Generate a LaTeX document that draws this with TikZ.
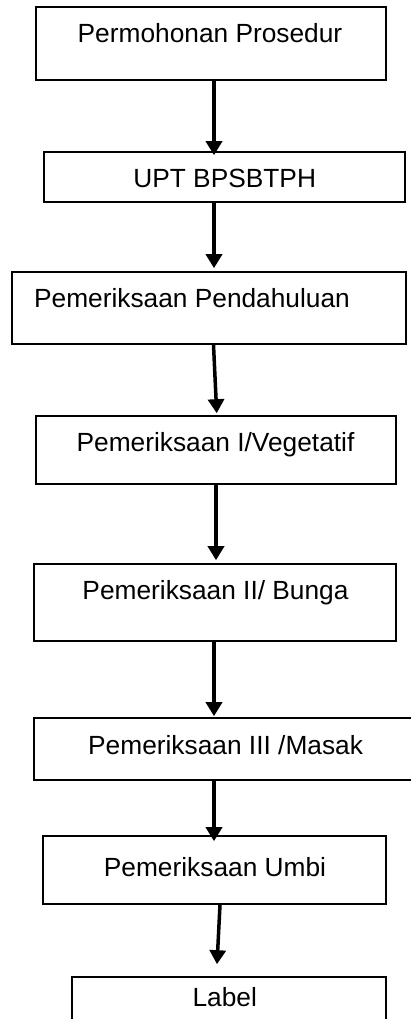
\documentclass[tikz,border=0pt]{standalone}
\usepackage{fontspec}
\setmainfont{Liberation Sans}
\usetikzlibrary{arrows.meta}
\begin{document}
\begin{tikzpicture}[x=1pt,y=-1pt,
  box/.style={draw=black, line width=1.6pt, inner sep=0pt},
  lbl/.style={anchor=base, inner sep=0pt, font=\fontsize{26.3}{30}\selectfont},
  arr/.style={line width=3.5pt, -{Triangle[width=16pt,length=14pt]}}]
\useasboundingbox (0,0) rectangle (411,1019);
\clip (0,0) rectangle (411,1019);
\fill[white] (0,0) rectangle (411,1019);
% boxes
\node[box, minimum width=350pt, minimum height=73pt] (b1) at (211,43.5) {};
\node[box, minimum width=361pt, minimum height=50pt] (b2) at (224.5,177) {};
\node[box, minimum width=394pt, minimum height=72pt] (b3) at (209,308) {};
\node[box, minimum width=360pt, minimum height=68pt] (b4) at (216,450) {};
\node[box, minimum width=362pt, minimum height=77pt] (b5) at (215,602.5) {};
\node[box, minimum width=396pt, minimum height=62pt] (b6) at (232,749) {};
\node[box, minimum width=343pt, minimum height=68pt] (b7) at (214.5,870) {};
\node[box, minimum width=314pt, minimum height=63pt] (b8) at (229,1008.5) {};
% texts
\node[lbl] (t1) at (210,43) {Permohonan Prosedur};
\node[lbl] (t2) at (224.7,187) {UPT BPSBTPH};
\node[lbl] (t3) at (192,307) {Pemeriksaan Pendahuluan};
\node[lbl] (t4) at (215.5,451) {Pemeriksaan I/Vegetatif};
\node[lbl] (t5) at (215.5,599) {Pemeriksaan II/ Bunga};
\node[lbl] (t6) at (225.6,754.7) {Pemeriksaan III /Masak};
\node[lbl] (t7) at (215,876.7) {Pemeriksaan Umbi};
\node[lbl] (t8) at (224.7,1006.7) {Label};
% arrows
\draw[arr] ([xshift=3pt]b1.south) -- ([xshift=-10.5pt,yshift=-4pt]b2.north);
\draw[arr] ([xshift=-10.5pt]b2.south) -- ([xshift=5pt,yshift=3pt]b3.north);
\draw[arr] ([xshift=4.5pt]b3.south) -- ([xshift=0.7pt,yshift=2pt]b4.north);
\draw[arr] ([xshift=0pt]b4.south) -- ([xshift=1pt,yshift=3pt]b5.north);
\draw[arr] ([xshift=-1pt]b5.south) -- ([xshift=-18pt,yshift=1pt]b6.north);
\draw[arr] ([xshift=-18pt]b6.south) -- ([xshift=-0.5pt,yshift=-6pt]b7.north);
\draw[arr] ([xshift=5.5pt]b7.south) -- ([xshift=-12pt,yshift=12pt]b8.north);
\end{tikzpicture}
\end{document}
